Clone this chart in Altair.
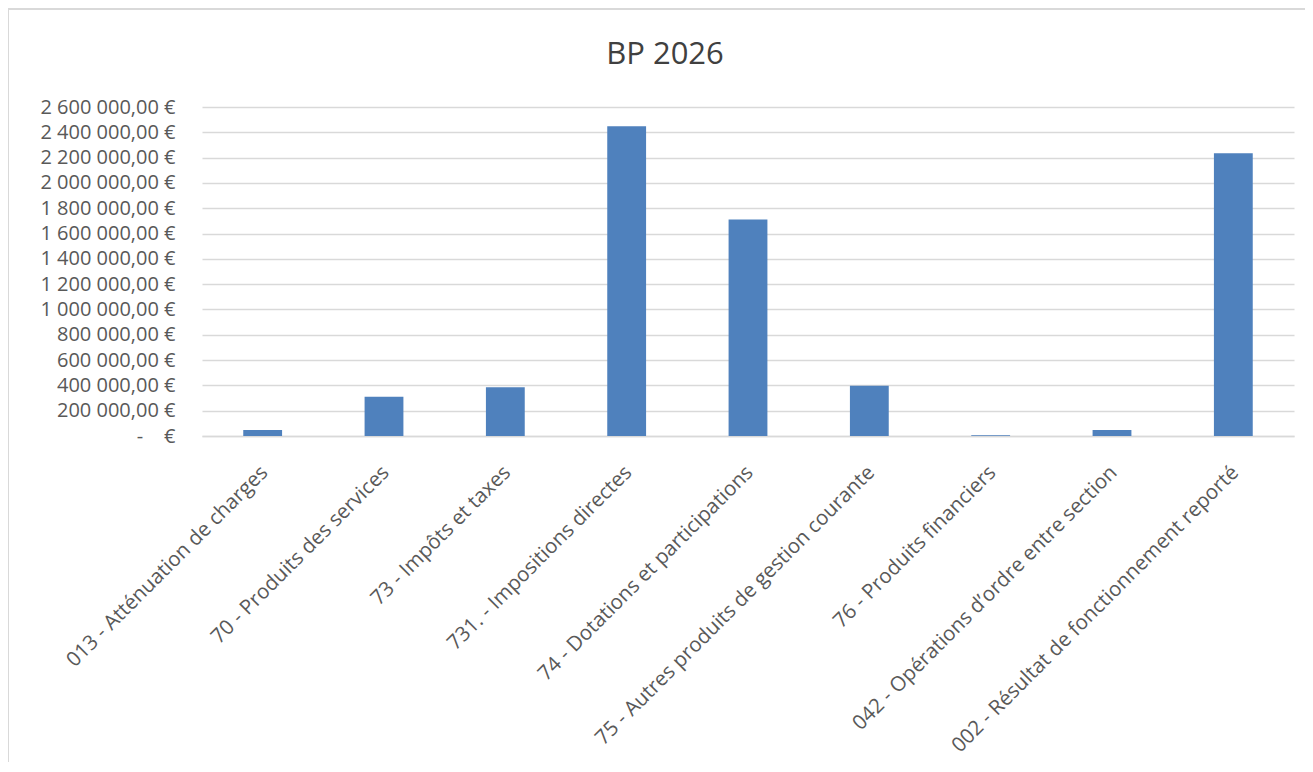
import altair as alt
import pandas as pd

categories = [
    "013 - Atténuation de charges",
    "70 - Produits des services",
    "73 - Impôts et taxes",
    "731. - Impositions directes",
    "74 - Dotations et participations",
    "75 - Autres produits de gestion courante",
    "76 - Produits financiers",
    "042 - Opérations d’ordre entre section",
    "002 - Résultat de fonctionnement reporté",
]
values = [48000, 311000, 385000, 2448000, 1710000, 398000, 6000, 48000, 2235000]
y_ticks = list(range(0, 2600001, 200000))

df = pd.DataFrame({"cat": categories, "val": values})

FONT = "Open Sans"
GRID = "#d9d9d9"
TEXT = "#595959"

label_expr = (
    "datum.value == 0 ? '-\u00a0\u00a0\u00a0\u00a0€' : "
    "replace(replace(format(datum.value, ',.2f'), regexp(',', 'g'), '\u00a0'), '.', ',') + '\u00a0€'"
)

bars = alt.Chart(df).mark_bar(color="#4F81BD").encode(
    x=alt.X(
        "cat:N",
        sort=categories,
        title=None,
        scale=alt.Scale(paddingInner=0.68, paddingOuter=0.34),
        axis=alt.Axis(
            labelAngle=-45,
            labelAlign="right",
            labelBaseline="middle",
            labelFont=FONT,
            labelFontSize=20.5,
            labelColor=TEXT,
            labelPadding=33,
            labelOffset=2,
            labelLimit=0,
            ticks=False,
            domainColor=GRID,
            domainWidth=1.5,
            grid=False,
        ),
    ),
    y=alt.Y(
        "val:Q",
        title=None,
        scale=alt.Scale(domain=[0, 2600000], nice=False),
        axis=alt.Axis(
            values=y_ticks,
            labelExpr=label_expr,
            labelFont=FONT,
            labelFontSize=20,
            labelColor=TEXT,
            labelPadding=27,
            ticks=False,
            domain=False,
            gridColor=GRID,
            gridWidth=1.5,
        ),
    ),
)

border = alt.Chart(pd.DataFrame({"a": [0]})).mark_rule(color=GRID, strokeWidth=2).encode(
    x=alt.value(-194), y=alt.value(-98), y2=alt.value(700)
)
border_top = alt.Chart(pd.DataFrame({"a": [0]})).mark_rule(color=GRID, strokeWidth=2).encode(
    x=alt.value(-194), x2=alt.value(1120), y=alt.value(-98)
)

chart = alt.layer(border, border_top, bars).properties(
    width=1092,
    height=329,
    padding={"left": 194, "top": 99, "right": 11, "bottom": 326},
    autosize=alt.AutoSizeParams(type="none"),
    title=alt.TitleParams(
        "BP 2026",
        font=FONT,
        fontSize=31,
        fontWeight="normal",
        color="#404040",
        anchor="middle",
        frame="bounds",
        baseline="alphabetic",
        offset=0,
        dy=87,
    ),
).configure_view(stroke=None)

chart.save("out.html", embed_options={"renderer": "svg", "actions": False})
